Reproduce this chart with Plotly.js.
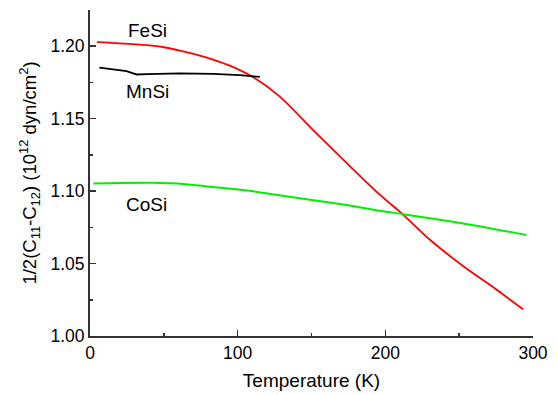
<!DOCTYPE html>
<html>
<head>
<meta charset="utf-8">
<script src="https://cdn.plot.ly/plotly-3.0.1.min.js"></script>
<style>html,body{margin:0;padding:0;background:#fff;}#chart{width:557px;height:394px;}</style>
</head>
<body>
<div id="chart"></div>
<script>
const feSiT = [4.7, 20, 38.4, 50, 60.9, 72, 83.4, 94.7, 111.7, 128.6, 151.1, 173.7, 196.2, 212, 230, 252.6, 275.2, 293.2];
const feSiV = [1.2028, 1.2020, 1.2007, 1.1993, 1.1970, 1.1942, 1.1907, 1.1866, 1.1779, 1.1652, 1.1421, 1.1195, 1.0976, 1.0838, 1.0666, 1.0483, 1.0321, 1.0184];
const mnSiT = [6.3, 15.8, 24.8, 29.3, 31.6, 38.4, 60.9, 83.4, 101.5, 115];
const mnSiV = [1.1853, 1.1841, 1.1828, 1.1812, 1.1805, 1.1807, 1.1812, 1.1809, 1.1800, 1.1788];
const coSiT = [2.2, 20, 41.7, 64.3, 86.8, 109.4, 142.1, 175, 196.2, 212, 250, 295.5];
const coSiV = [1.1053, 1.1056, 1.1057, 1.1048, 1.1025, 1.1000, 1.0950, 1.0903, 1.0864, 1.0841, 1.0782, 1.0697];
const labels = ['FeSi', 'MnSi', 'CoSi'];
const labelPos = [[39, 1.2108], [39, 1.1685], [38.5, 1.0908]];

const font = 'Arial, "Liberation Sans", sans-serif';
const traces = [
  {x: feSiT, y: feSiV, mode: 'lines', line: {color: '#ff0000', width: 1.8, shape: 'spline', smoothing: 0.8}, name: labels[0]},
  {x: mnSiT, y: mnSiV, mode: 'lines', line: {color: '#000000', width: 1.8}, name: labels[1]},
  {x: coSiT, y: coSiV, mode: 'lines', line: {color: '#00f000', width: 2, shape: 'spline', smoothing: 0.5}, name: labels[2]}
];
const annotations = labels.map((t, i) => ({
  x: labelPos[i][0], y: labelPos[i][1], xref: 'x', yref: 'y', text: t, showarrow: false,
  font: {family: font, size: 19, color: '#000'}, xanchor: 'center', yanchor: 'middle'
}));
const layout = {
  width: 557, height: 394,
  margin: {l: 90, r: 24, t: 10, b: 58},
  paper_bgcolor: '#fff', plot_bgcolor: '#fff',
  showlegend: false,
  font: {family: font, color: '#000'},
  xaxis: {
    range: [0, 300], tickvals: [0, 100, 200, 300], ticktext: ['0', '100', '200', '300'],
    ticks: 'inside', ticklen: 6, tickwidth: 1.5, tickcolor: '#333',
    minor: {dtick: 50, tick0: 0, ticks: 'inside', ticklen: 3, tickwidth: 1.5, tickcolor: '#333', showgrid: false},
    showline: true, linecolor: '#333', linewidth: 2, showgrid: false, zeroline: false,
    tickfont: {family: font, size: 17.5, color: '#000'},
    title: {text: 'Temperature (K)', font: {family: font, size: 19, color: '#000'}, standoff: 12}
  },
  yaxis: {
    range: [1.0, 1.225], tickvals: [1.0, 1.05, 1.1, 1.15, 1.2], ticktext: ['1.00', '1.05', '1.10', '1.15', '1.20'],
    ticks: 'inside', ticklen: 6, tickwidth: 1.5, tickcolor: '#333',
    minor: {dtick: 0.025, tick0: 1.0, ticks: 'inside', ticklen: 3, tickwidth: 1.5, tickcolor: '#333', showgrid: false},
    showline: true, linecolor: '#333', linewidth: 2, showgrid: false, zeroline: false,
    tickfont: {family: font, size: 17.5, color: '#000'},
    title: {text: '1/2(C<sub>11</sub>-C<sub>12</sub>) (10<sup>12</sup> dyn/cm<sup>2</sup>)', font: {family: font, size: 18.5, color: '#000'}, standoff: 9}
  },
  annotations: annotations
};
Plotly.newPlot('chart', traces, layout, {displayModeBar: false, staticPlot: true});
</script>
</body>
</html>
